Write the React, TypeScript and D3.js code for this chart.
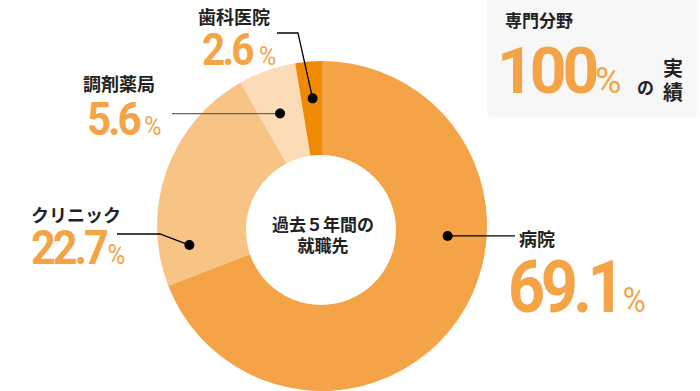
import React from 'react'
import * as d3 from 'd3'

// 過去5年間の就職先
const categories = ['病院', 'クリニック', '調剤薬局', '歯科医院']
const values = [69.1, 22.7, 5.6, 2.6]
const colors = ['#f4a446', '#f8c486', '#fcdcb6', '#f08a00']

const headline = { title: '専門分野', value: '100', unit: '%', tail: 'の', tailV: ['実', '績'] }
const centerLines = ['過去５年間の', '就職先']

// where each callout sits (dot: fraction of slice span + radius, label anchor)
const callouts = [
  { t: 0.38, r: 126, path: 'h', lineEnd: 515, lx: 519, ly: 246, vx: 508, vy: 312, size: 72, pct: 35, gap: 3, tone: '#000' },
  { t: 0.16, r: 134, path: 'elbow', elbowX: 160, elbowY: 234, lineEnd: 117, lx: 31, ly: 222, vx: 31, vy: 264, size: 48, pct: 27, gap: 2, tone: '#000' },
  { t: 0.45, r: 120, path: 'h', lineEnd: 172, lx: 83, ly: 91, vx: 87, vy: 135, size: 47, pct: 26, gap: 6, tone: '#666' },
  { t: 0.55, r: 128, path: 'elbow', elbowX: 298, elbowY: 33, lineEnd: 277, lx: 198, ly: 24, vx: 202, vy: 65, size: 45, pct: 26, gap: 8, tone: '#000' },
]

const W = 700
const H = 391
const cx = 322
const cy = 226
const outerR = 165
const innerR = 75
const squeeze = 0.9

const jp = '"Noto Sans CJK JP", "Noto Sans", sans-serif'
const num = 'Roboto, "Liberation Sans", sans-serif'

export default function App() {
  const pie = d3.pie<number>().sort(null).value(d => d)
  const arcs = pie(values)
  const arc = d3.arc<d3.PieArcDatum<number>>().innerRadius(0).outerRadius(outerR)

  return (
    <div style={{ position: 'absolute', left: 0, top: 0 }}>
      <svg width={W} height={H} viewBox={`0 0 ${W} ${H}`}>
        <rect x={487} y={-10} width={211} height={127} rx={6} fill="#f7f7f7" />
        <text x={505} y={27} fontFamily={jp} fontWeight={700} fontSize={17} fill="#222">{headline.title}</text>
        <text x={497} y={93} fontFamily={num} fontWeight={700} fontSize={64} letterSpacing={-4} fill="#f4a446">{headline.value}</text>
        <text x={595} y={93} fontFamily={num} fontWeight={400} fontSize={36} fill="#f4a446">{headline.unit}</text>
        <text x={637} y={94} fontFamily={jp} fontWeight={700} fontSize={17} fill="#222">{headline.tail}</text>
        {headline.tailV.map((c, i) => (
          <text key={c} x={663} y={76 + i * 24} fontFamily={jp} fontWeight={700} fontSize={20} fill="#222">{c}</text>
        ))}

        <g transform={`translate(${cx},${cy})`}>
          {arcs.map((a, i) => (
            <path key={categories[i]} d={arc(a) || ''} fill={colors[i]} />
          ))}
        </g>
        <circle cx={321} cy={230} r={innerR} fill="#fff" />
        {centerLines.map((l, i) => (
          <text key={l} x={323} y={231 + i * 21} textAnchor="middle" fontFamily={jp} fontWeight={700} fontSize={17} fill="#222">{l}</text>
        ))}

        {arcs.map((a, i) => {
          const c = callouts[i]
          const ang = a.startAngle + (a.endAngle - a.startAngle) * c.t
          const dx = cx + Math.sin(ang) * c.r
          const dy = cy - Math.cos(ang) * c.r
          const d = c.path === 'h'
            ? `M${dx},${dy}H${c.lineEnd}`
            : `M${dx},${dy}L${c.elbowX},${c.elbowY}H${c.lineEnd}`
          const label = d3.format('.1f')(values[i])
          return (
            <g key={categories[i]}>
              <path d={d} fill="none" stroke={c.tone} strokeWidth={1.3} />
              <circle cx={dx} cy={dy} r={5} fill="#000" />
              <text x={c.lx} y={c.ly} fontFamily={jp} fontWeight={700} fontSize={18} fill="#222">{categories[i]}</text>
              <g transform={`translate(${c.vx},${c.vy}) scale(${squeeze},1)`}>
                <text x={0} y={0} fontFamily={num} fontWeight={700} fontSize={c.size} letterSpacing={-c.size * 0.07} fill="#f4a446">
                  {label}
                  <tspan fontWeight={400} fontSize={c.pct} dx={c.gap} letterSpacing={0}>%</tspan>
                </text>
              </g>
            </g>
          )
        })}
      </svg>
    </div>
  )
}
